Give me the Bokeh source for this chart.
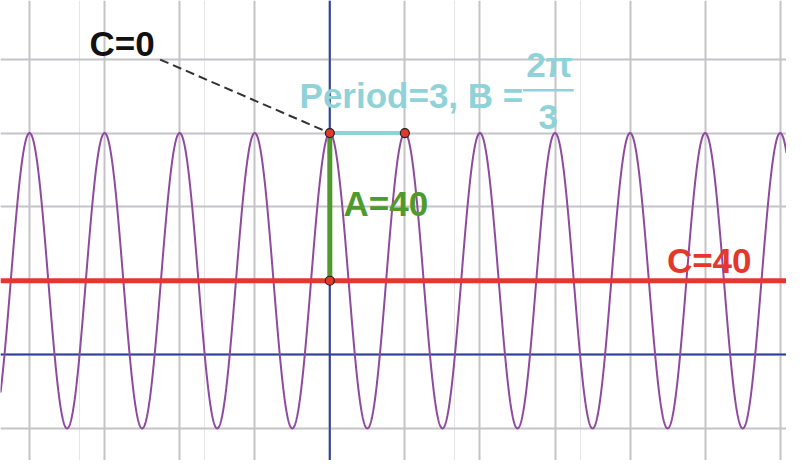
import numpy as np
from bokeh.plotting import figure
from bokeh.models import Range1d, Grid, SingleIntervalTicker
from bokeh.core.properties import value
from bokeh.embed import file_html
from bokeh.resources import INLINE

# Model values: y = A*cos(B*x) + C
A = 40
C = 40
PERIOD = 3
B = 2 * np.pi / PERIOD
AXIS_X = 0      # vertical blue axis
AXIS_Y = 20     # horizontal blue axis (as drawn in the picture)
GRID_DX = 3
GRID_DY = 20

x_min, x_max = -13.16, 18.25
y_min, y_max = -8.69, 115.9

xs = np.linspace(x_min, x_max, 3000)
ys = A * np.cos(B * xs) + C

# labelled points
pt_x = [0, PERIOD, 0]
pt_y = [C + A, C + A, C]

FONT = value("Liberation Sans")
FS = "35px"

p = figure(width=786, height=460, output_backend="svg", toolbar_location=None,
           x_range=Range1d(x_min, x_max), y_range=Range1d(y_min, y_max),
           x_axis_location=None, y_axis_location=None, min_border=0)
p.outline_line_color = None
p.background_fill_color = "white"
p.border_fill_color = "white"

gc = "#c3c3c8"
p.add_layout(Grid(dimension=0, ticker=SingleIntervalTicker(interval=GRID_DX),
                  grid_line_color=gc, grid_line_width=2))
p.add_layout(Grid(dimension=1, ticker=SingleIntervalTicker(interval=GRID_DY),
                  grid_line_color=gc, grid_line_width=2))

# axes (drawn beneath the other marks)
blue = "#2e3f9c"
p.line([AXIS_X, AXIS_X], [y_min, y_max], line_color=blue, line_width=2)
p.line([x_min, x_max], [AXIS_Y, AXIS_Y], line_color=blue, line_width=2)

# curve
p.line(xs, ys, line_color="#8e4a9f", line_width=2)

# midline C
p.line([x_min, x_max], [C, C], line_color="#e2392c", line_width=5)

# amplitude segment
p.line([0, 0], [C, C + A], line_color="#4f9a2c", line_width=5)

# period segment
cyan = "#8fd3d9"
p.line([0, PERIOD], [C + A, C + A], line_color=cyan, line_width=4)

# dashed leader from "C=0"
p.line([-6.78, 0], [99.9, C + A], line_color="#333333", line_width=2, line_dash="9 5")

# points
p.scatter(pt_x, pt_y, size=9, fill_color="#e2392c", line_color="#222222", line_width=1.2)

# labels (vertically centred on the capitals)
def label(x, y, t, color, align="left"):
    p.text(x=[x], y=[y], text=[t], text_color=color, text_font=FONT,
           text_font_size=FS, text_font_style="bold", text_baseline="middle",
           text_align=align)

label(-9.6, 104.3, "C=0", "#111111")
label(-1.21, 90.1, "Period=3, B =", cyan)
label(8.77, 98.5, "2π", cyan, "center")
p.line([7.72, 9.75], [91.57, 91.57], line_color=cyan, line_width=2.5)
label(8.73, 84.4, "3", cyan, "center")
label(0.55, 60.9, "A=40", "#4f9a2c")
label(13.47, 45.5, "C=40", "#e2392c")

open("out.html", "w").write(file_html(p, INLINE))
